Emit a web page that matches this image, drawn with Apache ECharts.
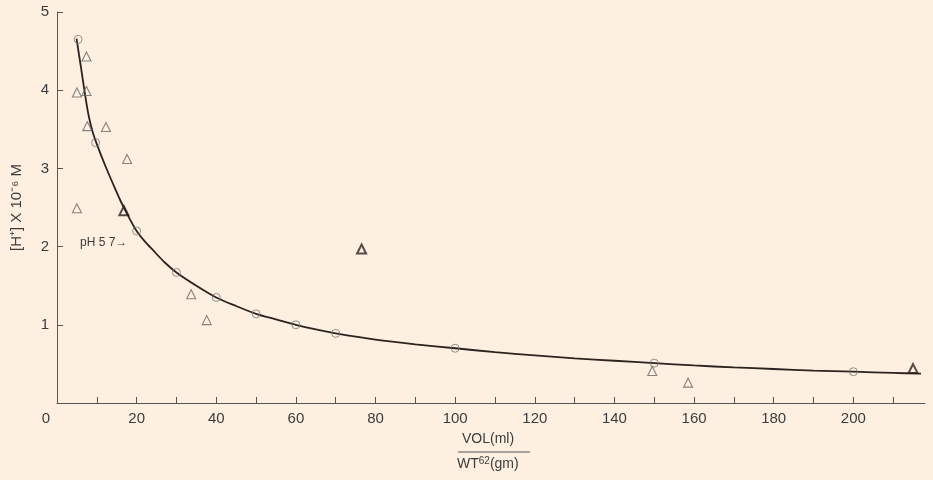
<!DOCTYPE html>
<html>
<head>
<meta charset="utf-8">
<script src="https://cdn.jsdelivr.net/npm/echarts@6/dist/echarts.min.js"></script>
<style>
html,body{margin:0;padding:0;background:#fdf0e0;}
#c{width:933px;height:480px;}
</style>
</head>
<body>
<div id="c"></div>
<script>
// ---- data ----
var xTicks = [0, 20, 40, 60, 80, 100, 120, 140, 160, 180, 200];
var yTicks = [1, 2, 3, 4, 5];
var circles = [[5.3, 4.65], [9.7, 3.33], [20, 2.2], [30, 1.67], [40, 1.35], [50, 1.14], [60, 1.0], [70, 0.89], [100, 0.70], [150, 0.51], [200, 0.40]];
var triangles = [[7.4, 4.43], [5.0, 3.97], [7.4, 3.99], [7.6, 3.54], [12.3, 3.53], [17.6, 3.12], [5.0, 2.49], [33.7, 1.39], [37.6, 1.06], [149.5, 0.41], [158.5, 0.26]];
var boldTriangles = [[16.8, 2.46], [76.5, 1.97], [215, 0.44]];
// points
var curve = [[4.9, 4.66], [6, 4.3], [7, 3.96], [8, 3.66], [9, 3.46], [10, 3.31], [12, 3.05], [14, 2.81], [16, 2.58], [18, 2.38], [20, 2.2], [22, 2.07], [24, 1.96], [27, 1.8], [30, 1.67], [35, 1.5], [40, 1.35], [45, 1.24], [50, 1.14], [55, 1.07], [60, 1.0], [65, 0.94], [70, 0.89], [80, 0.81], [90, 0.75], [100, 0.70], [110, 0.65], [120, 0.61], [130, 0.57], [140, 0.54], [150, 0.51], [160, 0.48], [170, 0.455], [180, 0.435], [190, 0.415], [200, 0.40], [210, 0.385], [217, 0.375]];

var txt = '#3c3c3c';
var chart = echarts.init(document.getElementById('c'));
chart.setOption({
  backgroundColor: '#fdf0e0',
  animation: false,
  grid: {left: 57, right: 8, top: 12, bottom: 77},
  xAxis: {
    type: 'value', min: 0, max: 218, interval: 10,
    axisLine: {lineStyle: {color: '#555', width: 1}},
    axisTick: {inside: true, length: 6, lineStyle: {color: '#555'}},
    splitLine: {show: false},
    axisLabel: {
      margin: 8, color: txt, fontSize: 15, fontFamily: 'Liberation Sans',
      showMaxLabel: false,
      rich: {z: {fontSize: 15, color: txt, fontFamily: 'Liberation Sans', padding: [0, 22, 0, 0]}},
      formatter: function (v) {
        if (xTicks.indexOf(v) < 0) return '';
        return v === 0 ? '{z|0}' : String(v);
      }
    }
  },
  yAxis: {
    type: 'value', min: 0, max: 5, interval: 1,
    axisLine: {show: true, lineStyle: {color: '#555', width: 1}},
    axisTick: {show: true, inside: true, length: 6, lineStyle: {color: '#555'}},
    splitLine: {show: false},
    axisLabel: {
      margin: 8, color: txt, fontSize: 15, fontFamily: 'Liberation Sans',
      formatter: function (v) { return yTicks.indexOf(v) >= 0 ? String(v) : ''; }
    },
    name: '[H\u207A] X 10\u207B\u2076 M', nameLocation: 'middle', nameGap: 33, nameRotate: 90,
    nameTextStyle: {color: txt, fontSize: 15, fontFamily: 'Liberation Sans'}
  },
  graphic: [
    {type: 'text', left: 80, top: 237, style: {text: 'pH 5 7\u2192', fill: txt, fontSize: 12, fontFamily: 'Liberation Sans'}},
    {type: 'text', left: 462, top: 432, style: {text: 'VOL(ml)', fill: txt, fontSize: 14, fontFamily: 'Liberation Sans'}},
    {type: 'line', shape: {x1: 458, y1: 452, x2: 530, y2: 452}, style: {stroke: '#555', lineWidth: 1}},
    {type: 'text', left: 457, top: 456, style: {
      rich: {b: {fontSize: 14, fill: txt, fontFamily: 'Liberation Sans'}, s: {fontSize: 10, fill: txt, fontFamily: 'Liberation Sans', verticalAlign: 'top', padding: [0, 0, 6, 0]}},
      text: '{b|WT}{s|62}{b|(gm)}'
    }}
  ],
  series: [
    {type: 'line', data: curve, smooth: 0.3, symbol: 'none',
     lineStyle: {color: '#2b2321', width: 1.8}, z: 2},
    {type: 'scatter', data: circles, symbol: 'circle', symbolSize: 8,
     itemStyle: {color: 'rgba(0,0,0,0)', borderColor: '#777', borderWidth: 1}, z: 3},
    {type: 'scatter', data: triangles, symbol: 'triangle', symbolSize: 9,
     itemStyle: {color: 'rgba(0,0,0,0)', borderColor: '#666', borderWidth: 1.1}, z: 3},
    {type: 'scatter', data: boldTriangles, symbol: 'triangle', symbolSize: 9,
     itemStyle: {color: 'rgba(0,0,0,0)', borderColor: '#2b2321', borderWidth: 2}, z: 3}
  ]
});
</script>
</body>
</html>
